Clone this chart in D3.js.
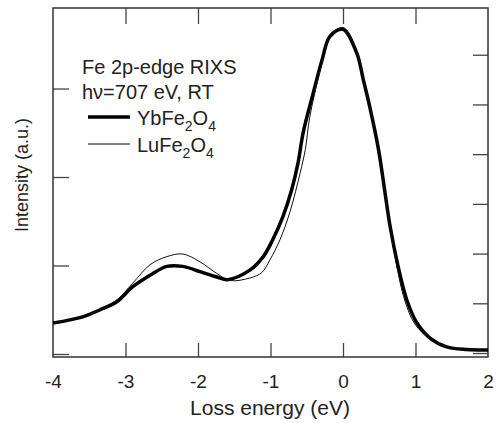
<!DOCTYPE html>
<html>
<head>
<meta charset="utf-8">
<script src="https://cdn.jsdelivr.net/npm/d3@7"></script>
<style>
  html, body { margin: 0; padding: 0; background: #fff; overflow: hidden; }
  svg { display: block; }
  svg text { font-family: "Liberation Sans", Arial, sans-serif; fill: #222; }
</style>
</head>
<body>
<div id="chart"></div>
<script>
// Loss energy (eV) and intensity (a.u.)
var energyYb = [-4.0, -3.59, -3.35, -3.12, -2.90, -2.66, -2.43, -2.21, -1.97, -1.74, -1.59, -1.28, -1.10, -0.97, -0.83, -0.71, -0.62, -0.55, -0.41, -0.29, -0.18, 0.0, 0.19, 0.28, 0.37, 0.49, 0.58, 0.65, 0.76, 0.88, 1.02, 1.20, 1.43, 1.71, 2.0]
var intensityYb = [0.35, 0.42, 0.50, 0.59, 0.76, 0.89, 0.99, 0.99, 0.93, 0.87, 0.84, 0.95, 1.10, 1.29, 1.55, 1.85, 2.16, 2.50, 2.95, 3.32, 3.59, 3.67, 3.40, 3.10, 2.79, 2.31, 1.82, 1.44, 0.99, 0.61, 0.35, 0.18, 0.08, 0.05, 0.045]

var energyLu = [-4.0, -3.59, -3.35, -3.12, -2.90, -2.66, -2.43, -2.21, -1.97, -1.74, -1.56, -1.28, -1.12, -1.01, -0.87, -0.73, -0.59, -0.52, -0.46, -0.32, -0.18, 0.0, 0.19, 0.28, 0.37, 0.49, 0.58, 0.65, 0.74, 0.85, 0.99, 1.20, 1.43, 1.71, 2.0]
var intensityLu = [0.35, 0.42, 0.50, 0.61, 0.80, 1.01, 1.10, 1.13, 1.04, 0.91, 0.83, 0.86, 0.92, 1.06, 1.29, 1.61, 2.05, 2.31, 2.67, 3.19, 3.58, 3.69, 3.42, 3.12, 2.80, 2.31, 1.81, 1.42, 1.00, 0.61, 0.34, 0.17, 0.08, 0.05, 0.045]

var xTicks = [-4, -3, -2, -1, 0, 1, 2]
var leftTicks = [0, 1, 2, 3]
var rightTicks = [0, 1, 2, 3, 4, 5, 6]

var width = 496
var height = 423
var margin = { left: 53, top: 8, right: 8, bottom: 66 }
var innerWidth = width - margin.left - margin.right
var innerHeight = height - margin.top - margin.bottom

var svg = d3.select('#chart')
            .append('svg')
            .attr('width', width)
            .attr('height', height)

var g = svg.append('g')
           .attr('transform', 'translate(' + margin.left + ',' + margin.top + ')')

var xScale = d3.scaleLinear()
               .domain([-4, 2])
               .range([0, innerWidth])

// left axis: tick spacing ~88.5px, right axis: ~49.7px
var yScale = d3.scaleLinear()
               .domain([-0.034, 3.91])
               .range([innerHeight, 0])
var yRight = d3.scaleLinear()
               .domain([-0.08, 6.94])
               .range([innerHeight, 0])

// axes, ticks pointing inward, labels only on the bottom one
var xAxis = d3.axisBottom(xScale)
              .tickValues(xTicks)
              .tickSizeInner(-14)
              .tickSizeOuter(0)
              .tickPadding(18)
              .tickFormat(function (d) { return String(d) })
var xTop = d3.axisTop(xScale)
             .tickValues(xTicks.slice(1, -1))
             .tickSizeInner(-16)
             .tickSizeOuter(0)
var yAxis = d3.axisLeft(yScale)
              .tickValues(leftTicks)
              .tickSizeInner(-16)
              .tickSizeOuter(0)
var yAxisR = d3.axisRight(yRight)
               .tickValues(rightTicks)
               .tickSizeInner(-15)
               .tickSizeOuter(0)

var xg = g.append('g').attr('transform', 'translate(0,' + innerHeight + ')').call(xAxis)
var tg = g.append('g').call(xTop)
var lg = g.append('g').call(yAxis)
var rg = g.append('g').attr('transform', 'translate(' + innerWidth + ',0)').call(yAxisR)

// unlabelled axes keep only their tick marks
tg.selectAll('.tick text').remove()
lg.selectAll('.tick text').remove()
rg.selectAll('.tick text').remove()

g.selectAll('.domain').remove()
g.selectAll('.tick line').attr('stroke', '#444').attr('stroke-width', 1.3)
xg.selectAll('.tick').filter(function (d) { return d === -4 || d === 2 }).select('line').remove()
xg.selectAll('.tick text')
  .attr('font-size', 19)
  .attr('fill', '#222')
  .attr('font-family', '"Liberation Sans", Arial, sans-serif')

g.append('rect')
 .attr('width', innerWidth)
 .attr('height', innerHeight)
 .attr('fill', 'none')
 .attr('stroke', '#333')
 .attr('stroke-width', 1.5)

g.append('clipPath').attr('id', 'clip')
 .append('rect').attr('width', innerWidth).attr('height', innerHeight)

var line = d3.line()
             .x(function (d) { return xScale(d[0]) })
             .y(function (d) { return yScale(d[1]) })
             .curve(d3.curveCatmullRom.alpha(0.5))

var ybData = d3.zip(energyYb, intensityYb)
var luData = d3.zip(energyLu, intensityLu)

var curves = g.append('g').attr('clip-path', 'url(#clip)')
curves.append('path')
      .datum(ybData)
      .attr('d', line)
      .attr('fill', 'none')
      .attr('stroke', '#000')
      .attr('stroke-width', 3.5)
      .attr('stroke-linejoin', 'round')
curves.append('path')
      .datum(luData)
      .attr('d', line)
      .attr('fill', 'none')
      .attr('stroke', '#111')
      .attr('stroke-width', 1)

// axis titles
svg.append('text')
   .attr('x', 270)
   .attr('y', 415)
   .attr('text-anchor', 'middle')
   .attr('font-size', 21)
   .text('Loss energy (eV)')

svg.append('text')
   .attr('transform', 'translate(28,175) rotate(-90)')
   .attr('text-anchor', 'middle')
   .attr('font-size', 18)
   .text('Intensity (a.u.)')

// annotation + legend
svg.append('text').attr('x', 82).attr('y', 74).attr('font-size', 20).text('Fe 2p-edge RIXS')
svg.append('text').attr('x', 82).attr('y', 99).attr('font-size', 20).text('h\u03bd=707 eV, RT')

var legendItems = [
    { parts: ['YbFe', '2', 'O', '4'], y: 117, w: 3.5 },
    { parts: ['LuFe', '2', 'O', '4'], y: 144, w: 1 }
]
legendItems.forEach(function (item) {
    svg.append('line')
       .attr('x1', 88).attr('x2', 130)
       .attr('y1', item.y).attr('y2', item.y)
       .attr('stroke', '#000')
       .attr('stroke-width', item.w)
    // formula pieces placed one after another, odd pieces as subscripts
    var x = 137
    item.parts.forEach(function (p, i) {
        var sub = i % 2 === 1
        var t = svg.append('text')
                   .attr('x', x)
                   .attr('y', item.y + 8 + (sub ? 6 : 0))
                   .attr('font-size', sub ? 14 : 20)
                   .text(p)
        x += t.node().getComputedTextLength()
    })
})
</script>
</body>
</html>
